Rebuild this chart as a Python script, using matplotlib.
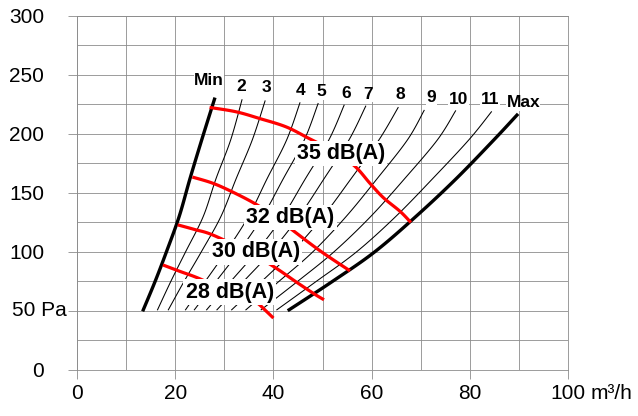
import numpy as np
import matplotlib
matplotlib.use('Agg')
import matplotlib.pyplot as plt
from matplotlib.ticker import MultipleLocator

plt.rcParams['font.family'] = ['Liberation Sans', 'DejaVu Sans']

# fan curves: x (m3/h) read at fixed pressure levels, plus each curve's top point
level_y = [51, 75, 100, 130, 162, 195]
curve_names = ['Min', '2', '3', '4', '5', '6', '7', '8', '9', '10', '11', 'Max']
curve_x = [
    [13.5, 15.9, 18.2, 20.8, 23.0, 25.4],
    [16.4, 19.1, 22.1, 25.7, 28.3, 31.3],
    [18.6, 21.8, 25.3, 29.3, 32.4, 35.7],
    [22.1, 26.1, 30.3, 34.9, 38.7, 42.7],
    [23.9, 28.3, 32.9, 37.8, 42.0, 46.3],
    [26.4, 31.3, 36.5, 41.9, 46.5, 51.3],
    [28.5, 33.9, 39.5, 45.2, 50.3, 55.4],
    [31.5, 37.6, 43.8, 50.1, 55.8, 61.5],
    [34.4, 41.1, 48.0, 54.8, 61.1, 67.3],
    [37.5, 44.9, 52.3, 59.8, 66.7, 73.4],
    [40.7, 48.7, 56.9, 64.9, 72.4, 79.8],
    [43.2, 52.0, 60.6, 69.0, 77.2, 84.9],
]
top_x = [28.0, 33.6, 38.3, 45.4, 49.1, 54.4, 58.8, 65.4, 70.7, 77.1, 84.4, 89.6]
top_y = [229.5, 229.0, 228.0, 226.4, 225.8, 224.4, 223.6, 222.4, 220.0, 219.6, 218.8, 216.0]

# where the curve names sit
name_x = [26.9, 33.4, 38.6, 45.6, 49.7, 54.9, 59.3, 65.8, 72.2, 77.7, 84.1, 90.9]
name_y = [245.0, 240.6, 239.4, 236.6, 235.8, 234.3, 233.5, 233.8, 231.0, 229.2, 229.2, 226.4]

# iso-noise lines (red)
r35_x = [27.0, 32.4, 37.2, 42.6, 47.3, 52.0, 56.5, 59.7, 62.4, 65.8, 68.0]
r35_y = [222.5, 218.8, 213.1, 206.0, 196.1, 186.0, 173.0, 158.0, 146.0, 134.4, 125.0]
r32_x = [23.5, 27.5, 31.1, 35.8, 40.0, 43.9, 49.5, 55.6]
r32_y = [163.5, 158.5, 152.0, 142.0, 131.0, 118.5, 101.0, 84.0]
r30_x = [20.5, 24.0, 27.3, 33.0, 38.1, 41.2, 44.5, 48.3, 50.3]
r30_y = [123.0, 119.0, 115.0, 104.0, 92.6, 84.5, 75.0, 64.5, 59.5]
r28_x = [17.5, 21.0, 24.6, 30.0, 35.5, 36.8, 38.5, 40.0]
r28_y = [89.0, 83.5, 78.0, 68.0, 58.5, 56.5, 50.0, 44.0]

db_labels = ['35 dB(A)', '32 dB(A)', '30 dB(A)', '28 dB(A)']
db_x = [53.8, 43.5, 36.4, 31.1]
db_y = [183.5, 129.0, 100.0, 66.0]

x_ticks = [0, 20, 40, 60, 80, 100]
x_labels = ['0', '20', '40', '60', '80', '100']
y_ticks = [0, 50, 100, 150, 200, 250, 300]
y_labels = ['0', '', '100', '150', '200', '250', '300']


def smooth(xs, ys, n=12):
    # catmull-rom through the read points, just so the lines don't kink
    p = np.column_stack([xs, ys]).astype(float)
    p = np.vstack([p[0], p, p[-1]])
    out = []
    for i in range(1, len(p) - 2):
        p0, p1, p2, p3 = p[i - 1], p[i], p[i + 1], p[i + 2]
        for t in np.linspace(0, 1, n, endpoint=False):
            out.append(0.5 * (2 * p1 + (p2 - p0) * t
                              + (2 * p0 - 5 * p1 + 4 * p2 - p3) * t ** 2
                              + (3 * p1 - p0 - 3 * p2 + p3) * t ** 3))
    out.append(p[-2])
    out = np.array(out)
    return out[:, 0], out[:, 1]


fig = plt.figure(figsize=(6.38, 4.16), dpi=100)
ax = fig.add_axes([0.1207, 0.1106, 0.7696, 0.851])
ax.set_xlim(0, 100)
ax.set_ylim(0, 300)

ax.xaxis.set_minor_locator(MultipleLocator(10))
ax.yaxis.set_minor_locator(MultipleLocator(25))
ax.set_xticks(x_ticks, x_labels)
ax.set_yticks(y_ticks, y_labels)
ax.grid(which='both', color='#8c8c8c', lw=0.6)
ax.tick_params(which='major', length=6.5, width=0.6, color='#8c8c8c', labelsize=15)
ax.tick_params(axis='x', pad=3.5)
ax.tick_params(axis='y', pad=17)
ax.tick_params(which='minor', length=0)
for s in ax.spines.values():
    s.set_color('#8c8c8c')
    s.set_linewidth(0.6)
ax.set_axisbelow(True)

# "50 Pa" sits closer to the axis than the other y labels
ax.annotate('50 Pa', xy=(0, 50), xycoords='data', xytext=(-7.5, 0),
            textcoords='offset points', ha='right', va='center', fontsize=15,
            annotation_clip=False)
# unit after the last x tick label
ax.annotate('m³/h', xy=(100, 0), xycoords='data', xytext=(16.5, -10),
            textcoords='offset points', ha='left', va='top', fontsize=15,
            annotation_clip=False)

for i, name in enumerate(curve_names):
    xs, ys = smooth(curve_x[i] + [top_x[i]], level_y + [top_y[i]])
    thick = name in ('Min', 'Max')
    ax.plot(xs, ys, color='black', lw=2.4 if thick else 0.75, zorder=3)
    ax.text(name_x[i], name_y[i], name, ha='center', va='center',
            fontsize=12.5, fontweight='bold', zorder=6,
            bbox=dict(fc='white', ec='none', pad=0.3))

for rx, ry in [(r35_x, r35_y), (r32_x, r32_y), (r30_x, r30_y), (r28_x, r28_y)]:
    sx, sy = smooth(rx, ry)
    ax.plot(sx, sy, color='#ff0000', lw=2.3, zorder=4, solid_capstyle='butt')

for lab, lx, ly in zip(db_labels, db_x, db_y):
    ax.text(lx, ly, lab, ha='center', va='center', fontsize=15.5,
            fontweight='bold', zorder=7,
            bbox=dict(fc='white', ec='none', pad=1.5))

fig.savefig('out.png', dpi=100)
